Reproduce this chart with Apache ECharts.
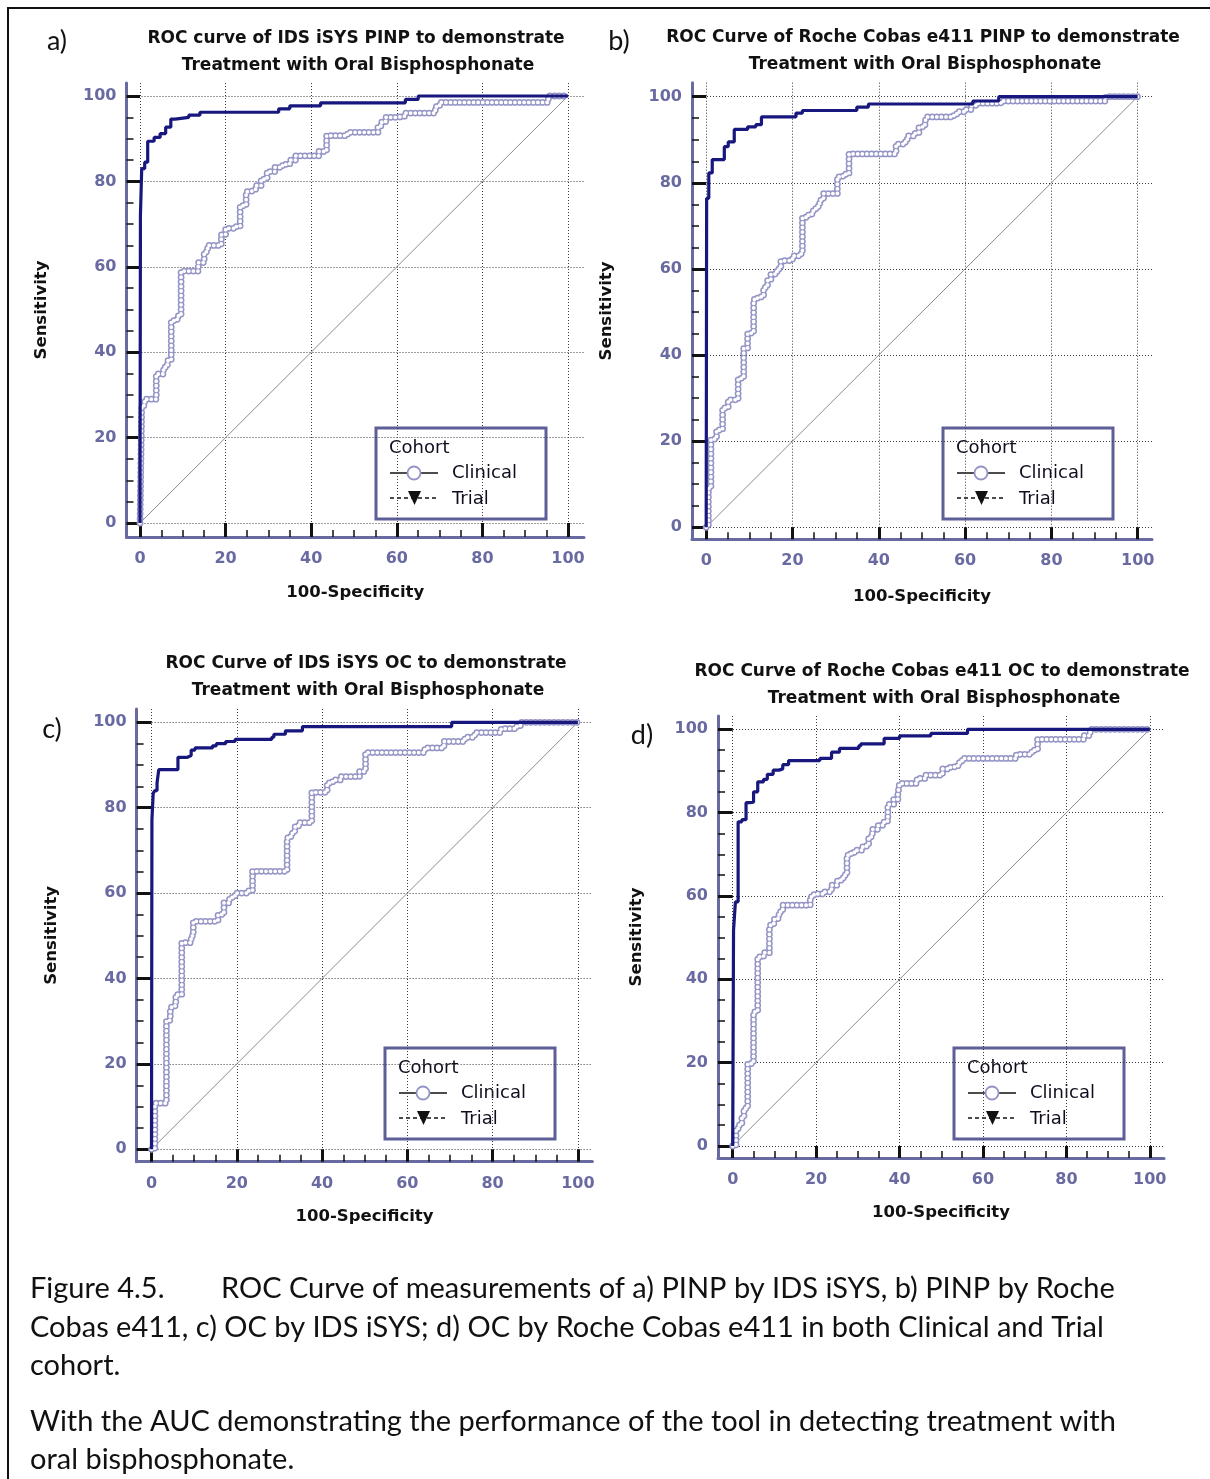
<!DOCTYPE html>
<html><head><meta charset="utf-8">
<script src="https://cdn.jsdelivr.net/npm/echarts@6/dist/echarts.min.js"></script>
<style>
html,body{margin:0;padding:0;background:#fff;}
#chart{position:absolute;left:0;top:0;width:1210px;height:1479px;}
#frame{position:absolute;left:7px;top:7px;width:1210px;height:1479px;border-left:2px solid #111;border-top:2px solid #111;pointer-events:none;}
</style>
</head><body>
<div id="chart"></div><div id="frame"></div>
<script>
// ---------- data ----------
const majorTicks = [0, 20, 40, 60, 80, 100];
const minorTicks = [5, 10, 15, 25, 30, 35, 45, 50, 55, 65, 70, 75, 85, 90, 95];
const diagonal = [[0, 0], [100, 100]];

// a) IDS iSYS PINP  (x = 100-Specificity, y = Sensitivity)
const aClinical = [[0,0],[0.4,27.5],[1.1,29],[3.8,34.9],[5.5,36.5],[6.4,38],[7.3,47.4],[8.7,48.5],[9.6,59],[13.6,61],[15,63.5],[15.8,65],[19,67.5],[20,69],[22.5,69.5],[23.4,74.3],[24.8,77.6],[25.7,78],[27,79],[28.3,80.5],[29.7,82.3],[31.5,83.3],[33.3,84],[35,85],[36.4,86],[41.8,87],[43.6,90.7],[48.5,91.5],[55.6,93],[56.5,94],[57.4,95],[60,95.3],[62,96],[69,97.5],[70,98.5],[95.4,100],[100,100]];
const aTrial = [[0,0],[0.1,72],[0.4,83],[1.1,84.5],[1.8,89.4],[3.3,90.3],[4.7,91.2],[6,92.7],[7.2,94.6],[8.2,95],[11.4,95.5],[14,96.2],[32.4,97],[35,97.7],[42.2,98.4],[62,99.2],[65,100],[100,100]];

// b) Roche Cobas e411 PINP
const bClinical = [[0,0],[0.5,9],[1.1,20.5],[2.4,22.6],[3.8,27.7],[5.1,29.6],[7.4,34.6],[8.7,41.6],[9.6,45.1],[11,52.9],[11.9,53.5],[13.3,55.7],[14.2,57.3],[15,58.8],[16.4,60],[17.3,61.9],[18.7,62],[20,63],[21.4,63.5],[22.3,72],[23.2,72.5],[24.5,73.5],[25.4,74.5],[26.3,76],[27.2,77.5],[30.4,81.4],[31.7,82],[33.1,86.7],[44,89],[45.7,89.5],[46.6,90.9],[48.4,91.5],[49.3,93],[50.7,94],[51,95.3],[57.4,96],[58.3,96.5],[60.2,97],[61.5,98],[62.8,98.5],[68.3,99],[92.6,100],[100,100]];
const bTrial = [[0,0],[0.1,76.4],[0.6,82.3],[1.4,85.4],[4.2,88.4],[5.1,89.5],[6.5,92.4],[9.6,93],[11.5,93.5],[12.8,95.3],[20.8,96.2],[22.3,96.8],[34.9,97.6],[37.6,98.3],[61.8,99],[67.8,100],[100,100]];

// c) IDS iSYS OC
const cClinical = [[0,0],[0.8,10.8],[3.5,30.2],[4.4,32.3],[4.8,33.6],[5.7,36.2],[7.1,48.4],[9.3,50],[9.8,53.4],[15.6,55],[17,57.7],[18.3,59],[19.6,60],[22.4,60.5],[23.7,65.1],[31.8,72.9],[32.7,74],[33.6,75.5],[34.5,76.5],[37.6,83.6],[41.2,85.8],[42.5,86.5],[44.3,87.3],[48.8,88.5],[50.2,92.9],[64.1,94],[68.6,95.5],[73.5,96.5],[75.8,97.6],[82,98.5],[85.6,99],[86.5,100],[100,100]];
const cTrial = [[0,0],[0.1,77.2],[0.4,83.4],[0.8,84],[1.3,85.8],[1.7,88.9],[6.2,91.8],[8.4,92.2],[9.3,93.5],[10.2,94],[14.3,94.5],[15.2,95],[17.4,95.5],[19.6,96],[28.2,96.5],[28.7,97.2],[31.4,98],[35.4,99],[70.4,100],[100,100]];

// d) Roche Cobas e411 OC
const dClinical = [[0,0],[0.8,4],[1.3,5],[2.2,7],[2.7,9],[3.6,19.8],[5,32.2],[6,45.4],[7.4,46.4],[8.8,52],[9.2,53.4],[10,54.6],[11.1,56.2],[12,57.8],[18.6,59.8],[19.5,60.5],[21.8,61],[23.7,62.6],[25.1,63.8],[26.5,65],[27.4,69.8],[28.4,70.5],[29.8,71],[31.2,72],[32.6,74.2],[33.5,76],[34.9,77],[36.3,78],[37.2,82],[38.6,83.2],[39.6,84.5],[40,87],[44.2,88.2],[46.1,89],[50.3,90.5],[52.2,91],[54,92],[55,93],[68,94],[71.7,95],[73.1,97.6],[84.3,98.5],[85.7,100],[100,100]];
const dTrial = [[0,0],[0.2,51.8],[0.65,58.6],[1.3,77.8],[2.2,78.3],[3.2,82.4],[4.1,82.5],[5,85],[6,87.4],[7.4,88],[8.3,89.2],[9.7,90.2],[11.1,90.5],[12,91.5],[13.4,92.5],[20.9,93],[23.7,94.5],[25.6,95.4],[30.2,96],[30.7,96.5],[36.3,97.8],[40,98.4],[47.5,99],[56.3,100],[100,100]];

const panelLetters = ['a)', 'b)', 'c)', 'd)'];
const titleLine1 = ['ROC curve of IDS iSYS PINP to demonstrate', 'ROC Curve of Roche Cobas e411 PINP to demonstrate', 'ROC Curve of IDS iSYS OC to demonstrate', 'ROC Curve of Roche Cobas e411 OC to demonstrate'];
const titleLine2 = ['Treatment with Oral Bisphosphonate', 'Treatment with Oral Bisphosphonate', 'Treatment with Oral Bisphosphonate', 'Treatment with Oral Bisphosphonate'];
const xAxisName = '100-Specificity';
const yAxisName = 'Sensitivity';
const legendLabels = ['Cohort', 'Clinical', 'Trial'];
const seriesNames = ['Clinical', 'Trial'];
const captionLines = [
  'Figure 4.5.',
  'ROC Curve of measurements of a) PINP by IDS iSYS, b) PINP by Roche',
  'Cobas e411, c) OC by IDS iSYS; d) OC by Roche Cobas e411 in both Clinical and Trial',
  'cohort.',
  'With the AUC demonstrating the performance of the tool in detecting treatment with',
  'oral bisphosphonate.'
];
const clinicalData = [aClinical, bClinical, cClinical, dClinical];
const trialData = [aTrial, bTrial, cTrial, dTrial];

// ---------- layout (pixels) ----------
const layout = [
  {x0:140, x100:568, axL:126.5, axR:584, y0:523, y100:96, axB:537, axT:83, xGap:47, yGap:76, legend:[376,428], letter:[57,41], title:[356,39]},
  {x0:706.2, x100:1137.7, axL:692, axR:1152, y0:527.3, y100:96.7, axB:539.3, axT:82.7, xGap:49, yGap:77, legend:[943,428], letter:[619,41], title:[923,38]},
  {x0:151.5, x100:577.9, axL:136.6, axR:592.4, y0:1149.3, y100:722.3, axB:1161.7, axT:709, xGap:47, yGap:76, legend:[385,1048], letter:[52,729], title:[366,664]},
  {x0:732.7, x100:1149.8, axL:718, axR:1164, y0:1146, y100:729.3, axB:1158, axT:716, xGap:46, yGap:73, legend:[954,1048], letter:[642,735], title:[942,672]}
];

const AXIS_COLOR = '#6a6aa2';
const TRIAL_COLOR = '#17177e';
const CLIN_COLOR = '#9494c6';
const TICK_FONT = {fontFamily:'DejaVu Sans', fontWeight:'bold', fontSize:16, color:AXIS_COLOR};
const NAME_FONT = {fontFamily:'DejaVu Sans', fontWeight:'bold', fontSize:16.5, color:'#111'};

const grids = [], xAxes = [], yAxes = [], series = [], graphics = [];

layout.forEach((p, i) => {
  const xMin = -(p.x0 - p.axL) / (p.x100 - p.x0) * 100;
  const xMax = (p.axR - p.x0) / (p.x100 - p.x0) * 100;
  const yMin = -(p.axB - p.y0) / (p.y0 - p.y100) * 100;
  const yMax = (p.y0 - p.axT) / (p.y0 - p.y100) * 100;
  grids.push({left:p.axL, top:p.axT, width:p.axR - p.axL, height:p.axB - p.axT, outerBoundsMode:'none', containLabel:false});
  const split = {show:true, lineStyle:{color:'#3a3a3a', width:1, type:[1,2]}};
  xAxes.push({type:'value', gridIndex:i, min:xMin, max:xMax, position:'bottom',
    name:xAxisName, nameLocation:'middle', nameGap:p.xGap, nameTextStyle:NAME_FONT, nameMoveOverlap:false,
    axisLine:{show:true, onZero:false, lineStyle:{color:AXIS_COLOR, width:3}},
    axisTick:{show:true, inside:true, length:p.axB - p.y0, customValues:majorTicks, lineStyle:{color:'#111', width:3}},
    axisLabel:Object.assign({customValues:majorTicks, margin:14}, TICK_FONT),
    minorTick:{show:false}, splitLine:split});
  xAxes.push({type:'value', gridIndex:i, min:xMin, max:xMax, position:'bottom',
    axisLine:{show:false, onZero:false}, axisLabel:{show:false}, splitLine:{show:false},
    axisTick:{show:true, inside:true, length:7, customValues:minorTicks, lineStyle:{color:'#111', width:1.5}}});
  yAxes.push({type:'value', gridIndex:i, min:yMin, max:yMax, position:'left',
    name:yAxisName, nameLocation:'middle', nameGap:p.yGap, nameRotate:90, nameTextStyle:NAME_FONT, nameMoveOverlap:false,
    axisLine:{show:true, onZero:false, lineStyle:{color:AXIS_COLOR, width:3}},
    axisTick:{show:true, inside:true, length:p.x0 - p.axL, customValues:majorTicks, lineStyle:{color:'#111', width:3}},
    axisLabel:Object.assign({customValues:majorTicks, margin:10}, TICK_FONT),
    minorTick:{show:false}, splitLine:split});
  yAxes.push({type:'value', gridIndex:i, min:yMin, max:yMax, position:'left',
    axisLine:{show:false, onZero:false}, axisLabel:{show:false}, splitLine:{show:false},
    axisTick:{show:true, inside:true, length:7, customValues:minorTicks, lineStyle:{color:'#111', width:1.5}}});

  const xi = 2 * i, yi = 2 * i;
  const common = {type:'line', xAxisIndex:xi, yAxisIndex:yi, symbol:'none', showSymbol:false, silent:true, animation:false};
  series.push(Object.assign({}, common, {name:'reference', data:diagonal, lineStyle:{color:'#8c8c8c', width:1}}));
  series.push(Object.assign({}, common, {name:seriesNames[0], data:clinicalData[i], step:'end',
    lineStyle:{color:CLIN_COLOR, width:6.8, type:[0, 4.6], cap:'round'}}));
  series.push(Object.assign({}, common, {name:seriesNames[0] + ' ', data:clinicalData[i], step:'end',
    lineStyle:{color:'#ffffff', width:3.8, type:[0, 4.6], cap:'round'}}));
  series.push(Object.assign({}, common, {name:seriesNames[1], data:trialData[i], step:'end',
    lineStyle:{color:TRIAL_COLOR, width:3.2}}));

  graphics.push({type:'text', x:p.title[0], y:p.title[1], z:50, style:{text:titleLine1[i], font:'bold 17px "DejaVu Sans"', fill:'#111', align:'center', verticalAlign:'middle', textAlign:'center', textVerticalAlign:'middle'}});
  graphics.push({type:'text', x:p.title[0] + 2, y:p.title[1] + 27, z:50, style:{text:titleLine2[i], font:'bold 17px "DejaVu Sans"', fill:'#111', align:'center', verticalAlign:'middle', textAlign:'center', textVerticalAlign:'middle'}});
  graphics.push({type:'text', x:p.letter[0], y:p.letter[1], z:50, style:{text:panelLetters[i], font:'27px Lato', fill:'#111', align:'center', verticalAlign:'middle', textAlign:'center', textVerticalAlign:'middle'}});
  const tf = {font:'18px "DejaVu Sans"', fill:'#0e0e1e', align:'left', verticalAlign:'middle', textAlign:'left', textVerticalAlign:'middle'};
  graphics.push({type:'group', x:p.legend[0], y:p.legend[1], z:100, children:[
    {type:'rect', shape:{x:0, y:0, width:170, height:91}, style:{fill:'#fff', stroke:'#5e5e98', lineWidth:3}},
    {type:'text', x:13, y:20, style:Object.assign({text:legendLabels[0]}, tf)},
    {type:'line', shape:{x1:14, y1:45, x2:62, y2:45}, style:{stroke:'#111', lineWidth:1.5}},
    {type:'circle', shape:{cx:38, cy:45, r:6.5}, style:{fill:'#fff', stroke:CLIN_COLOR, lineWidth:1.8}},
    {type:'text', x:76, y:45, style:Object.assign({text:legendLabels[1]}, tf)},
    {type:'line', shape:{x1:14, y1:70, x2:62, y2:70}, style:{stroke:'#111', lineWidth:1.5, lineDash:[4,3]}},
    {type:'polygon', shape:{points:[[32,63],[45,63],[38.5,77]]}, style:{fill:'#111'}},
    {type:'text', x:76, y:71, style:Object.assign({text:legendLabels[2]}, tf)}
  ]});
});

// caption
const capStyle = (t) => ({text:t, font:'28px Lato', fill:'#111', align:'left', verticalAlign:'middle', textAlign:'left', textVerticalAlign:'middle'});
const capPos = [[30,1289],[221,1289],[30,1328],[30,1366],[30,1422],[30,1460]];
captionLines.forEach((t, k) => {
  graphics.push({type:'text', x:capPos[k][0], y:capPos[k][1], scaleX:1.035, style:capStyle(t)});
});

const chart = echarts.init(document.getElementById('chart'), null, {renderer:'canvas'});
chart.setOption({
  animation:false,
  backgroundColor:'#fff',
  grid:grids, xAxis:xAxes, yAxis:yAxes, series:series,
  graphic:{elements:graphics}
});
</script>
</body></html>
